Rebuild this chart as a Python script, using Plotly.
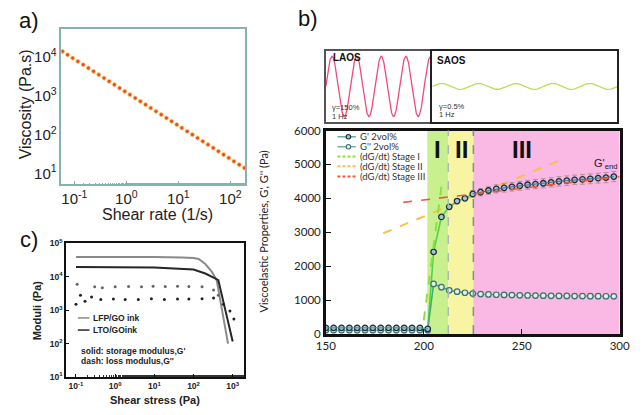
import numpy as np
import plotly.graph_objects as go

W, H = 642, 415


def px(x):
    return x / W


def py(y):
    return 1 - y / H


# ---------------- panel a: viscosity vs shear rate ----------------
shear_rate = [0.059, 0.074, 0.093, 0.117, 0.148, 0.186, 0.234, 0.295, 0.372, 0.468,
              0.589, 0.741, 0.933, 1.17, 1.48, 1.86, 2.34, 2.95, 3.72, 4.68,
              5.89, 7.41, 9.33, 11.7, 14.8, 18.6, 23.4, 29.5, 37.2, 46.8,
              58.9, 74.1, 93.3, 117, 148, 186]
viscosity = [13800, 11300, 9300, 7640, 6270, 5150, 4230, 3470, 2850, 2340,
             1920, 1575, 1290, 1060, 871, 716, 588, 482, 396, 325,
             267, 219, 180, 148, 121, 99.4, 81.6, 67.0, 55.0, 45.2,
             37.1, 30.4, 25.0, 20.5, 16.8, 13.8]
a_xticks = [0.1, 1, 10, 100]
a_xticktext = ["10<sup>-1</sup>", "10<sup>0</sup>", "10<sup>1</sup>", "10<sup>2</sup>"]
a_yticks = [10, 100, 1000, 10000]
a_yticktext = ["10<sup>1</sup>", "10<sup>2</sup>", "10<sup>3</sup>", "10<sup>4</sup>"]

# ---------------- panel c: moduli vs shear stress ----------------
lfp_stress = [0.1, 1, 10, 50, 100, 135, 200, 295, 390, 500, 620, 760]
lfp_storage = [39000, 39500, 39000, 38000, 36500, 34000, 24000, 14000, 7900, 1550, 390, 100]
lto_stress = [0.1, 1, 10, 100, 200, 325, 430, 550, 700, 850, 1000]
lto_storage = [19500, 19500, 19000, 16500, 12500, 9400, 7900, 2300, 670, 260, 115]
lfp_loss_stress = [0.107, 0.3, 0.47, 1.0, 2.2, 4.7, 9.3, 19, 39, 76, 165, 324, 430]
lfp_loss = [6000, 5000, 4700, 5000, 5100, 5000, 5200, 5100, 5200, 5100, 5000, 4000, 2800]
lto_loss_stress = [0.1, 0.13, 0.17, 0.25, 0.43, 0.9, 1.8, 3.9, 8.4, 18, 39, 76, 165, 325,
                   580, 850, 1070]
lto_loss = [1500, 2800, 1850, 2500, 2100, 2150, 2100, 2100, 2200, 2100, 2150, 2150, 2200, 2300,
            1500, 950, 550]
c_xticks = [0.1, 1, 10, 100, 1000]
c_xticktext = ["10<sup>-1</sup>", "10<sup>0</sup>", "10<sup>1</sup>", "10<sup>2</sup>", "10<sup>3</sup>"]
c_yticks = [10, 100, 1000, 10000, 100000]
c_yticktext = ["10<sup>1</sup>", "10<sup>2</sup>", "10<sup>3</sup>", "10<sup>4</sup>", "10<sup>5</sup>"]

# ---------------- panel b: viscoelastic properties vs time ----------------
time_s = [150, 154, 158, 162, 166, 170, 174, 178, 182, 186, 190, 194, 198, 202,
          205, 209, 213, 217, 221, 225, 229, 233, 237, 241, 245, 249, 253, 257,
          261, 265, 269, 273, 277, 281, 285, 289, 293, 297]
g_storage = [180, 180, 180, 180, 180, 180, 180, 180, 180, 180, 180, 180, 180, 150,
             2420, 3450, 3750, 3920, 4000, 4130, 4180, 4230, 4280, 4310, 4340, 4370, 4400, 4420,
             4445, 4470, 4500, 4520, 4545, 4560, 4575, 4595, 4610, 4640]
g_storage_err = [0, 0, 0, 0, 0, 0, 0, 0, 0, 0, 0, 0, 0, 0,
                 0, 0, 0, 0, 0, 100, 110, 115, 120, 125, 125, 130, 130, 135,
                 135, 135, 140, 140, 140, 145, 145, 145, 150, 150]
g_loss = [110, 110, 110, 110, 110, 110, 110, 110, 110, 110, 110, 110, 110, 110,
          1475, 1380, 1285, 1245, 1215, 1190, 1175, 1165, 1155, 1150, 1145, 1140, 1135, 1130,
          1128, 1125, 1122, 1120, 1118, 1116, 1115, 1113, 1112, 1110]
stage_bounds = [201.8, 212.5, 225.3, 300]
stage_names = ["I", "II", "III"]
stage_label_t = [207, 219.5, 250]
stage_label_g = 5430
growth_idx = (13, 20)   # points 202 s .. 225 s (stages I-II), drawn with the green curve
tangent_I_t = [200, 209.5]
tangent_I_g = [400, 4560]
tangent_II_t = [179.3, 269.2]
tangent_II_g = [2970, 5114]
tangent_III_t = [189.5, 300]
tangent_III_g = [3880, 4640]
gend_t, gend_g = 292.5, 5010

# oscillation sketches (schematic sinusoids)
LAOS_CYCLES, LAOS_AMPL = 4.25, 1.0
SAOS_CYCLES, SAOS_AMPL = 5.0, 0.1
phase = np.linspace(0, 1, 500)

fig = go.Figure()

# panel a
fig.add_trace(go.Scatter(x=shear_rate, y=viscosity, mode="markers", name="Viscosity",
                         marker=dict(color="#ee4a24", size=4.2, line=dict(color="#f5dc78", width=0.8)),
                         xaxis="x", yaxis="y", showlegend=False))

# panel c
fig.add_trace(go.Scatter(x=lfp_stress, y=lfp_storage, mode="lines", name="LFP/GO ink",
                         line=dict(color="#8a8a8a", width=2), xaxis="x2", yaxis="y2", showlegend=False))
fig.add_trace(go.Scatter(x=lto_stress, y=lto_storage, mode="lines", name="LTO/GOink",
                         line=dict(color="#262626", width=2), xaxis="x2", yaxis="y2", showlegend=False))
fig.add_trace(go.Scatter(x=lfp_loss_stress, y=lfp_loss, mode="markers", name="LFP/GO ink G''",
                         marker=dict(color="#666666", size=3), xaxis="x2", yaxis="y2", showlegend=False))
fig.add_trace(go.Scatter(x=lto_loss_stress, y=lto_loss, mode="markers", name="LTO/GOink G''",
                         marker=dict(color="#222222", size=3), xaxis="x2", yaxis="y2", showlegend=False))

# panel b
fig.add_trace(go.Scatter(x=tangent_II_t, y=tangent_II_g, mode="lines", name="(dG/dt) Stage II",
                         line=dict(color="#fbbf48", width=2, dash="dash"), xaxis="x3", yaxis="y3",
                         showlegend=False))
i0, i1 = growth_idx
for series in (g_storage, g_loss):
    fig.add_trace(go.Scatter(x=time_s[i0:i1], y=series[i0:i1], mode="lines", name="growth",
                             line=dict(color="#4fd24f", width=1.6), xaxis="x3", yaxis="y3",
                             showlegend=False, hoverinfo="skip"))
fig.add_trace(go.Scatter(x=time_s, y=g_loss, mode="lines+markers", name="G'' 2vol%",
                         line=dict(color="#45a08a", width=1),
                         marker=dict(symbol="circle", size=5.5, color="#dfeee6",
                                     line=dict(color="#3c6f70", width=1.2)),
                         xaxis="x3", yaxis="y3", showlegend=False))
fig.add_trace(go.Scatter(x=time_s, y=g_storage, mode="markers", name="G' 2vol%",
                         error_y=dict(type="data", array=g_storage_err, color="#c08c94",
                                      thickness=1, width=2.5),
                         marker=dict(symbol="circle", size=5.5, color="#a9c4d2",
                                     line=dict(color="#1c2b3a", width=1.3)),
                         xaxis="x3", yaxis="y3", showlegend=False))
fig.add_trace(go.Scatter(x=time_s[:i0 + 1], y=g_storage[:i0 + 1], mode="lines", name="G' 2vol% line",
                         line=dict(color="#3f9a8c", width=1), xaxis="x3", yaxis="y3",
                         showlegend=False, hoverinfo="skip"))
fig.add_trace(go.Scatter(x=time_s[i1 - 1:], y=g_storage[i1 - 1:], mode="lines", name="G' 2vol% line",
                         line=dict(color="#3f6f8c", width=1), xaxis="x3", yaxis="y3",
                         showlegend=False, hoverinfo="skip"))
fig.add_trace(go.Scatter(x=tangent_I_t, y=tangent_I_g, mode="lines", name="(dG/dt) Stage I",
                         line=dict(color="#8fe03c", width=2, dash="dash"), xaxis="x3", yaxis="y3",
                         showlegend=False))
fig.add_trace(go.Scatter(x=tangent_III_t, y=tangent_III_g, mode="lines", name="(dG/dt) Stage III",
                         line=dict(color="#ef5a36", width=1.6, dash="dash"), xaxis="x3", yaxis="y3",
                         showlegend=False))

# insets
fig.add_trace(go.Scatter(x=phase, y=LAOS_AMPL * np.sin(2 * np.pi * LAOS_CYCLES * phase), mode="lines",
                         name="LAOS", line=dict(color="#f04a7a", width=1.3),
                         xaxis="x4", yaxis="y4", showlegend=False))
fig.add_trace(go.Scatter(x=phase, y=SAOS_AMPL * np.sin(2 * np.pi * SAOS_CYCLES * phase), mode="lines",
                         name="SAOS", line=dict(color="#b9e052", width=1.3),
                         xaxis="x5", yaxis="y5", showlegend=False))

teal = "#86b3ad"
fa = "Liberation Sans"
fb = "Lato"

layout = dict(
    width=W, height=H, margin=dict(l=0, r=0, t=0, b=0),
    paper_bgcolor="white", plot_bgcolor="white", showlegend=False,
    xaxis=dict(domain=[px(53), px(243)], type="log", range=[-1.25, 2.29],
               tickmode="array", tickvals=a_xticks, ticktext=a_xticktext,
               showline=True, mirror=True, linecolor=teal, linewidth=1.5,
               ticks="inside", ticklen=4, tickcolor=teal,
               minor=dict(ticks="inside", ticklen=2, tickcolor=teal),
               tickfont=dict(family=fa, size=15, color="#222"), showgrid=False, zeroline=False,
               anchor="y"),
    yaxis=dict(domain=[py(183), py(23)], type="log", range=[0.72, 4.71],
               tickmode="array", tickvals=a_yticks, ticktext=a_yticktext,
               showline=True, mirror=True, linecolor=teal, linewidth=1.5,
               ticks="", tickfont=dict(family=fa, size=15, color="#222"), showgrid=False,
               zeroline=False, anchor="x"),
    xaxis2=dict(domain=[px(58), px(242)], type="log", range=[-1.25, 3.3],
                tickmode="array", tickvals=c_xticks, ticktext=c_xticktext,
                showline=True, mirror=True, linecolor="#111", linewidth=2,
                ticks="inside", ticklen=3, tickcolor="#111",
                minor=dict(ticks="inside", ticklen=2, tickcolor="#333"),
                tickfont=dict(family=fa, size=8.5, color="#222", weight="bold"), showgrid=False,
                zeroline=False, anchor="y2"),
    yaxis2=dict(domain=[py(382), py(244)], type="log", range=[1, 5],
                tickmode="array", tickvals=c_yticks, ticktext=c_yticktext,
                showline=True, mirror=True, linecolor="#111", linewidth=2,
                ticks="inside", ticklen=3, tickcolor="#111",
                tickfont=dict(family=fa, size=8.5, color="#222", weight="bold"), showgrid=False,
                zeroline=False, anchor="x2"),
    xaxis3=dict(domain=[px(326), px(629.3)], range=[150, 300], dtick=50, showline=True, mirror=True,
                linecolor="#111", linewidth=2.5, ticks="inside", ticklen=5, tickcolor="#111",
                tickfont=dict(family=fb, size=11.5, color="#222"), showgrid=False, zeroline=False,
                anchor="y3"),
    yaxis3=dict(domain=[py(337.5), py(127.5)], range=[0, 6000], dtick=1000, showline=True,
                mirror=True, linecolor="#111", linewidth=2.5, ticks="inside", ticklen=5,
                tickcolor="#111", tickfont=dict(family=fb, size=11.5, color="#222"),
                showgrid=False, zeroline=False, anchor="x3"),
    xaxis4=dict(domain=[px(326), px(434)], range=[0, 1], showline=True, mirror=True,
                linecolor="#555", linewidth=1.5, showticklabels=False, ticks="", showgrid=False,
                zeroline=False, anchor="y4"),
    yaxis4=dict(domain=[py(119), py(45)], range=[-1.19, 1.19], showline=True, mirror=True,
                linecolor="#555", linewidth=1.5, showticklabels=False, ticks="", showgrid=False,
                zeroline=False, anchor="x4"),
    xaxis5=dict(domain=[px(436), px(627)], range=[0, 1], showline=True, mirror=True,
                linecolor="#222", linewidth=1.5, showticklabels=False, ticks="", showgrid=False,
                zeroline=False, anchor="y5"),
    yaxis5=dict(domain=[py(119), py(45)], range=[-1.19, 1.19], showline=True, mirror=True,
                linecolor="#222", linewidth=1.5, showticklabels=False, ticks="", showgrid=False,
                zeroline=False, anchor="x5"),
)
fig.update_layout(**layout)

# stage shading and boundaries
stage_colors = ["#c9f08e", "#f7f5a2", "#f9b9e4"]
shapes = []
for i, c in enumerate(stage_colors):
    shapes.append(dict(type="rect", xref="x3", yref="y3 domain", x0=stage_bounds[i],
                       x1=stage_bounds[i + 1], y0=0, y1=1, fillcolor=c, line=dict(width=0),
                       layer="below"))
for b, col in zip(stage_bounds[1:3], ["#aab8b8", "#7f8f8f"]):
    shapes.append(dict(type="line", xref="x3", yref="y3 domain", x0=b, x1=b, y0=0, y1=1,
                       line=dict(color=col, width=1.5, dash="dash"), layer="above"))


def note(x, y, text, size, family=fa, color="#222", weight="normal", xanchor="center",
         angle=0, xref="paper", yref="paper"):
    return dict(x=x, y=y, xref=xref, yref=yref, text=text, showarrow=False,
                xanchor=xanchor, yanchor="middle", textangle=angle,
                font=dict(family=family, size=size, color=color, weight=weight))


annotations = []
for name, t in zip(stage_names, stage_label_t):
    annotations.append(note(t, stage_label_g, name, 24, color="#111", weight="bold",
                            xref="x3", yref="y3"))
annotations.append(note(gend_t, gend_g, "G'<sub>end</sub>", 11, xref="x3", yref="y3"))

# legend for panel b (drawn as keys + text)
leg_rows = [134, 144.3, 154.3, 164.3, 175]
leg_items = [("G' 2vol%", "#3f9a8c", "solid", "#1c2b3a", "#a9c4d2"),
             ("G'' 2vol%", "#45a08a", "solid", "#3c6f70", "#dfeee6"),
             ("(dG/dt) Stage I", "#8fe03c", "dash", None, None),
             ("(dG/dt) Stage II", "#fbbf48", "dash", None, None),
             ("(dG/dt) Stage III", "#ef5a36", "dash", None, None)]
for yy, (txt, col, dash, mline, mfill) in zip(leg_rows, leg_items):
    shapes.append(dict(type="line", xref="paper", yref="paper", x0=px(338), x1=px(357),
                       y0=py(yy), y1=py(yy), line=dict(color=col, width=1.2 if dash == "solid" else 2,
                                                     dash="solid" if dash == "solid" else "3px,2px")))
    if mline:
        shapes.append(dict(type="circle", xref="paper", yref="paper", x0=px(347), x1=px(351.6),
                           y0=py(yy + 2.3), y1=py(yy - 2.3), fillcolor=mfill,
                           line=dict(color=mline, width=1.1)))
    annotations.append(note(px(359.5), py(yy), txt, 9.5, family=fb, color="#333", xanchor="left"))

# legend for panel c
for yy, txt, col in [(321, "LFP/GO ink", "#8a8a8a"), (333.5, "LTO/GOink", "#262626")]:
    shapes.append(dict(type="line", xref="paper", yref="paper", x0=px(70), x1=px(82),
                       y0=py(yy), y1=py(yy), line=dict(color=col, width=1.5)))
    annotations.append(note(px(83.5), py(yy), txt, 8.5, weight="bold", xanchor="left"))
for yy, txt in [(355, "solid: storage modulus,G'"), (365.7, "dash: loss modulus,G''")]:
    annotations.append(note(px(71.5), py(yy), txt, 8.5, weight="bold", xanchor="left"))

# inset texts
annotations += [
    note(px(331), py(52), "LAOS", 10, color="#111", weight="bold", xanchor="left"),
    note(px(439), py(55), "SAOS", 10, color="#111", weight="bold", xanchor="left"),
    note(px(330.5), py(104), "γ=150%", 7.5, color="#333", xanchor="left"),
    note(px(330.5), py(112.7), "1 Hz", 7.5, color="#333", xanchor="left"),
    note(px(441), py(102.3), "γ=0.5%", 7.5, color="#333", xanchor="left"),
    note(px(441), py(110.7), "1 Hz", 7.5, color="#333", xanchor="left"),
]

# axis titles and panel labels
annotations += [
    note(px(16), py(101), "Viscosity (Pa.s)", 16, angle=-90),
    note(px(152), py(214), "Shear rate (1/s)", 16),
    note(px(28), py(313), "Moduli (Pa)", 11, weight="bold", angle=-90),
    note(px(150), py(406), "Shear stress (Pa)", 11, weight="bold"),
    note(px(262), py(232), "Viscoelastic Properties, G', G'' (Pa)", 11, family=fb, angle=-90),
    note(px(20), py(14), "a)", 22, color="#111"),
    note(px(308), py(12), "b)", 22, color="#111"),
    note(px(20), py(240), "c)", 22, color="#111"),
]

fig.update_layout(shapes=shapes, annotations=annotations)
fig.write_html("out.html", config={"displayModeBar": False},
               post_script="document.body.style.margin='0';")
